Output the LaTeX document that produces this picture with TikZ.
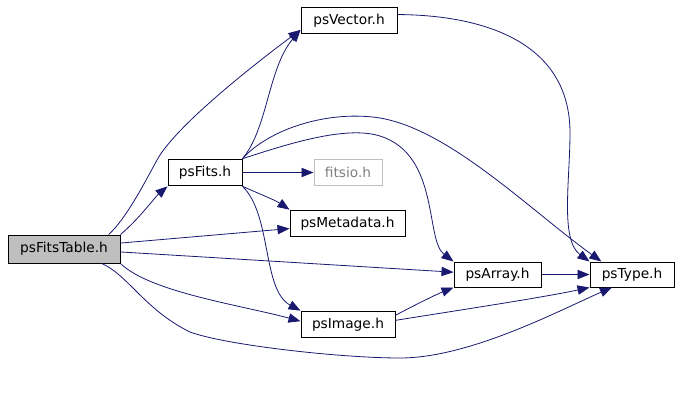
\documentclass[tikz,border=0pt]{standalone}
\usepackage{fontspec}
\newfontfamily\dotfont{DejaVu Sans}
\usetikzlibrary{arrows.meta}
\definecolor{edgeblue}{RGB}{25,25,112}
\definecolor{sysgray}{RGB}{191,191,191}
\definecolor{systext}{RGB}{128,128,128}

\tikzset{every picture/.style={line width=0.75pt}}
\tikzset{
  hdr/.style={draw, fill=white, inner sep=0pt, minimum height=20pt, font=\dotfont\fontsize{10.3}{12}\selectfont},
  syshdr/.style={hdr, draw=sysgray, text=systext},
  dep/.style={draw=edgeblue, line width=0.6pt, -{Triangle[length=9pt,width=7pt]}, edgeblue}
}

\begin{document}
\begin{tikzpicture}[x=0.75pt,y=0.75pt,yscale=-1,xscale=1]
\path[use as bounding box] (0,0) rectangle (682,396); %set diagram to 682 x 396

% Header Nodes
\node[hdr, fill=sysgray, minimum width=84pt, minimum height=21pt] (psFitsTable) at (64,249) {psFitsTable.h};
\node[hdr, minimum width=55.5pt] (psFits) at (205,172.5) {psFits.h};
\node[hdr, minimum width=72pt] (psVector) at (349,20.5) {psVector.h};
\node[syshdr, minimum width=51pt] (fitsio) at (348,172.5) {fitsio.h};
\node[hdr, minimum width=86.25pt] (psMetadata) at (347.5,223.5) {psMetadata.h};
\node[hdr, minimum width=70.5pt] (psImage) at (348,324.5) {psImage.h};
\node[hdr, minimum width=65.25pt, minimum height=18.75pt] (psArray) at (497.5,274.5) {psArray.h};
\node[hdr, minimum width=63pt, minimum height=18.75pt] (psType) at (632,274.5) {psType.h};

% Edges from psFitsTable.h
\draw[dep] (psFitsTable.north east) .. controls (140,218) and (155,197) .. (psFits.south west);
\draw[dep] (psFitsTable.18) .. controls (126,219) and (145,182) .. (157,160) .. controls (176,125) and (260,60) .. (psVector.191);
\draw[dep] (psFitsTable.6) -- (psMetadata.185);
\draw[dep] (psFitsTable.-3) -- (psArray.177);
\draw[dep] (psFitsTable.south east) .. controls (150,292) and (240,305) .. (psImage.176);
\draw[dep] (psFitsTable.-21) .. controls (128,275) and (145,310) .. (190,332) .. controls (225,345) and (340,358) .. (400,358) .. controls (470,358) and (560,310) .. (psType.213);

% Edges from psFits.h
\draw[dep] (psFits.north east) .. controls (268,128) and (268,68) .. (psVector.191);
\draw[dep] (psFits.east) -- (fitsio.west);
\draw[dep] (psFits.south east) .. controls (255,192) and (275,200) .. (psMetadata.north west);
\draw[dep] (psFits.south east) .. controls (272,215) and (262,290) .. (psImage.north west);
\draw[dep] (psFits.north east) .. controls (285,145) and (345,125) .. (380,136) .. controls (440,155) and (425,240) .. (psArray.north west);
\draw[dep] (psFits.north east) .. controls (270,128) and (330,110) .. (380,118) .. controls (450,130) and (530,210) .. (psType.157);

% Remaining edges
\draw[dep] (psVector.7) .. controls (480,15) and (570,40) .. (570,133) .. controls (570,180) and (560,240) .. (psType.163);
\draw[dep] (psArray.east) -- (psType.west);
\draw[dep] (psImage.11) .. controls (415,305) and (435,295) .. (psArray.south west);
\draw[dep] (psImage.5) .. controls (460,310) and (540,298) .. (psType.south west);

\end{tikzpicture}
\end{document}
